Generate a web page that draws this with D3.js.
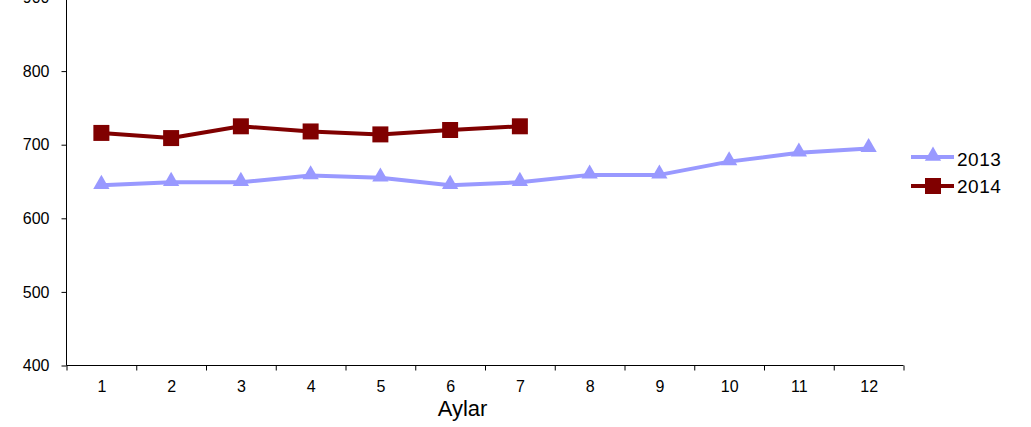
<!DOCTYPE html>
<html>
<head>
<meta charset="utf-8">
<script src="https://cdn.jsdelivr.net/npm/d3@7"></script>
<style>
  html, body { margin: 0; padding: 0; background: #fff; }
  svg { display: block; }
  text { font-family: "Liberation Sans", Arial, sans-serif; fill: #000; }
</style>
</head>
<body>
<svg id="chart" width="1031" height="427"></svg>
<script>
const months = [1, 2, 3, 4, 5, 6, 7, 8, 9, 10, 11, 12];
const values2013 = [645, 649, 649, 658, 655, 645, 649, 659, 659, 677, 689, 695];
const values2014 = [716, 709, 725, 718, 714, 720, 725];
const yTicks = [400, 500, 600, 700, 800, 900];
const seriesNames = ["2013", "2014"];
const xTitle = "Aylar";

const svg = d3.select("#chart");
const mLeft = 66.5, mRight = 903.5, mTop = -2.5, mBottom = 365.5;

const x = d3.scaleLinear().domain([0.5, 12.5]).range([mLeft, mRight]);
const y = d3.scaleLinear().domain([400, 900]).range([mBottom, mTop]);

// Y axis
const yAxis = svg.append("g").attr("transform", `translate(${mLeft},0)`)
  .call(d3.axisLeft(y).tickValues(yTicks).tickSize(5).tickPadding(12).tickFormat(d3.format("d")));
yAxis.attr("font-size", null).attr("font-family", null);
yAxis.select(".domain").attr("stroke", "#000").attr("d", `M0,${y(400)}V${y(900)}`);
yAxis.selectAll(".tick line").attr("stroke", "#000");
yAxis.selectAll(".tick text").style("font-size", "16px").style("fill", "#000");

// X axis: boundary ticks
const boundaries = d3.range(0.5, 13, 1);
const xAxis = svg.append("g").attr("transform", `translate(0,${mBottom})`)
  .call(d3.axisBottom(x).tickValues(boundaries).tickSize(5).tickFormat(""));
xAxis.select(".domain").attr("stroke", "#000").attr("d", `M${mLeft},0H${mRight}`);
xAxis.selectAll(".tick line").attr("stroke", "#000");

// X labels
const xLabels = svg.append("g").attr("transform", `translate(0,${mBottom})`)
  .call(d3.axisBottom(x).tickValues(months).tickSize(0).tickPadding(15).tickFormat(d3.format("d")));
xLabels.attr("font-size", null).attr("font-family", null);
xLabels.select(".domain").remove();
xLabels.selectAll(".tick text").style("font-size", "16px").style("fill", "#000");

svg.append("text").attr("x", 462.5).attr("y", 416).attr("text-anchor", "middle")
  .style("font-size", "22px").text(xTitle);

const line = d3.line().x((d, i) => x(months[i])).y(d => y(d));

const c2013 = "#9999ff", c2014 = "#800000";
const tri = d3.symbol().type(d3.symbolTriangle).size(115);
const sq = d3.symbol().type(d3.symbolSquare).size(256);

// 2013
svg.append("path").datum(values2013).attr("d", line).attr("fill", "none")
  .attr("stroke", c2013).attr("stroke-width", 4).attr("stroke-linejoin", "round");
svg.append("g").selectAll("path").data(values2013).join("path")
  .attr("d", tri).attr("fill", c2013)
  .attr("transform", (d, i) => `translate(${x(months[i])},${y(d) - 1})`);

// 2014
svg.append("path").datum(values2014).attr("d", line).attr("fill", "none")
  .attr("stroke", c2014).attr("stroke-width", 4).attr("stroke-linejoin", "round");
svg.append("g").selectAll("path").data(values2014).join("path")
  .attr("d", sq).attr("fill", c2014)
  .attr("transform", (d, i) => `translate(${x(months[i])},${y(d)})`);

// Legend
const legend = svg.append("g");
const legY = [157, 186];
const legColors = [c2013, c2014];
const legSymbols = [tri, sq];
seriesNames.forEach((name, i) => {
  const g = legend.append("g").attr("transform", `translate(0,${legY[i]})`);
  g.append("line").attr("x1", 911).attr("x2", 954).attr("y1", 0).attr("y2", 0)
    .attr("stroke", legColors[i]).attr("stroke-width", 4);
  g.append("path").attr("d", legSymbols[i]).attr("fill", legColors[i])
    .attr("transform", `translate(933,${i === 0 ? -1 : 0})`);
  g.append("text").attr("x", 957).attr("y", i === 0 ? 2 : 0).attr("dy", "0.35em")
    .style("font-size", "19px").style("letter-spacing", "0.5px").text(name);
});
</script>
</body>
</html>
